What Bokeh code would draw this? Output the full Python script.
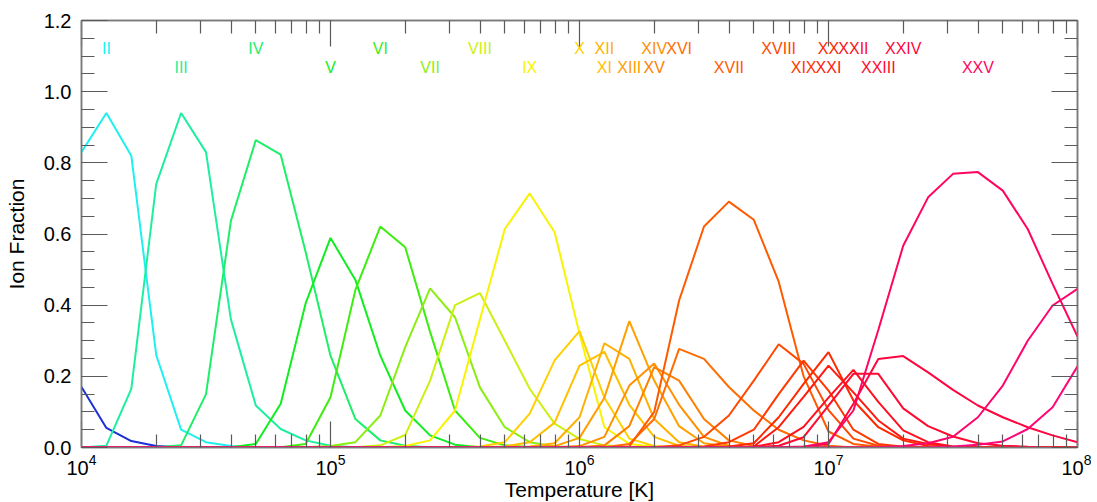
import numpy as np
from bokeh.plotting import figure
from bokeh.models import (FixedTicker, LinearAxis, PrintfTickFormatter,
                          LogTickFormatter, ColumnDataSource, Range1d)
from bokeh.core.properties import value
from bokeh.embed import file_html
from bokeh.resources import INLINE

# log10 temperature grid
log_t = [4.0 + 0.1 * i for i in range(41)]

def pad(start, vals):
    out = [0.0] * 41
    for i, v in enumerate(vals):
        out[start + i] = v
    return out

# ion fractions (start index on the grid, values)
fe_01 = pad(0, [0.17, 0.055, 0.018, 0.004, 0.001])
fe_02 = pad(0, [0.83, 0.94, 0.82, 0.26, 0.05, 0.015, 0.004, 0.001])
fe_03 = pad(0, [0.0, 0.005, 0.165, 0.74, 0.94, 0.83, 0.36, 0.118, 0.052, 0.02, 0.005, 0.001])
fe_04 = pad(3, [0.001, 0.006, 0.15, 0.637, 0.864, 0.823, 0.55, 0.258, 0.08, 0.02, 0.005, 0.001])
fe_05 = pad(6, [0.001, 0.01, 0.123, 0.405, 0.589, 0.471, 0.258, 0.104, 0.034, 0.008, 0.001])
fe_06 = pad(8, [0.001, 0.01, 0.141, 0.443, 0.621, 0.563, 0.325, 0.104, 0.027, 0.006, 0.001])
fe_07 = pad(9, [0.001, 0.004, 0.015, 0.09, 0.282, 0.447, 0.366, 0.169, 0.057, 0.015, 0.003])
fe_08 = pad(11, [0.001, 0.006, 0.035, 0.188, 0.40, 0.434, 0.30, 0.165, 0.067, 0.024, 0.006, 0.001])
fe_09 = pad(12, [0.001, 0.004, 0.02, 0.104, 0.36, 0.614, 0.714, 0.605, 0.32, 0.057, 0.01, 0.002])
fe_10 = pad(15, [0.001, 0.003, 0.015, 0.095, 0.245, 0.327, 0.14, 0.025, 0.004])
fe_11 = pad(16, [0.001, 0.003, 0.015, 0.07, 0.23, 0.269, 0.12, 0.03, 0.005])
fe_12 = pad(17, [0.001, 0.003, 0.012, 0.085, 0.293, 0.249, 0.08, 0.015, 0.002])
fe_13 = pad(18, [0.001, 0.004, 0.027, 0.14, 0.355, 0.188, 0.06, 0.012, 0.002])
fe_14 = pad(19, [0.001, 0.004, 0.03, 0.174, 0.236, 0.12, 0.03, 0.005])
fe_15 = pad(20, [0.001, 0.006, 0.06, 0.226, 0.188, 0.08, 0.02, 0.004])
fe_16 = pad(21, [0.001, 0.01, 0.08, 0.277, 0.249, 0.17, 0.104, 0.05, 0.02, 0.005])
fe_17 = pad(21, [0.001, 0.003, 0.10, 0.413, 0.621, 0.691, 0.64, 0.466, 0.2, 0.045, 0.01, 0.002])
fe_18 = pad(23, [0.001, 0.006, 0.03, 0.09, 0.188, 0.29, 0.235, 0.105, 0.025, 0.005])
fe_19 = pad(24, [0.001, 0.003, 0.015, 0.05, 0.15, 0.244, 0.16, 0.05, 0.01, 0.002])
fe_20 = pad(25, [0.001, 0.003, 0.012, 0.085, 0.179, 0.268, 0.132, 0.057, 0.02, 0.004])
fe_21 = pad(26, [0.001, 0.003, 0.057, 0.142, 0.23, 0.155, 0.076, 0.025, 0.01, 0.002])
fe_22 = pad(27, [0.002, 0.015, 0.058, 0.14, 0.218, 0.128, 0.048, 0.015, 0.003])
fe_23 = pad(27, [0.001, 0.005, 0.029, 0.118, 0.207, 0.207, 0.11, 0.06, 0.031, 0.012, 0.005, 0.002])
fe_24 = pad(28, [0.001, 0.003, 0.01, 0.123, 0.249, 0.257, 0.211, 0.162, 0.118, 0.085, 0.057, 0.034, 0.015])
fe_25 = pad(28, [0.001, 0.002, 0.015, 0.104, 0.33, 0.567, 0.703, 0.769, 0.774, 0.722, 0.614, 0.46, 0.312])
fe_26 = pad(31, [0.001, 0.001, 0.004, 0.012, 0.03, 0.085, 0.174, 0.30, 0.399, 0.446])
fe_27 = pad(34, [0.001, 0.003, 0.008, 0.017, 0.052, 0.113, 0.228])

ions = [fe_01, fe_02, fe_03, fe_04, fe_05, fe_06, fe_07, fe_08, fe_09, fe_10,
        fe_11, fe_12, fe_13, fe_14, fe_15, fe_16, fe_17, fe_18, fe_19, fe_20,
        fe_21, fe_22, fe_23, fe_24, fe_25, fe_26, fe_27]

roman = ["I", "II", "III", "IV", "V", "VI", "VII", "VIII", "IX", "X",
         "XI", "XII", "XIII", "XIV", "XV", "XVI", "XVII", "XVIII", "XIX", "XX",
         "XXI", "XXII", "XXIII", "XXIV", "XXV", "XXVI", "XXVII"]

# log T of each labelled ion's maximum (II .. XXV)
label_logt = [4.1, 4.4, 4.7, 5.0, 5.2, 5.4, 5.6, 5.8, 6.0, 6.1, 6.1, 6.2, 6.3, 6.3,
              6.4, 6.6, 6.8, 6.9, 7.0, 7.0, 7.1, 7.2, 7.3, 7.6]
label_names = roman[1:25]
label_row = [1.121 if (k % 2 == 0) else 1.067 for k in range(len(label_names))]

colors = ["#1a2fd6", "#1ef0f0", "#1eeea0", "#1eee6a", "#10ee20", "#3cee10",
          "#8aee10", "#ccf010", "#f8f400", "#ffd000", "#ffc000", "#ffb000",
          "#ffa000", "#ff9000", "#ff8000", "#ff6c00", "#ff5a00", "#ff4800",
          "#ff3800", "#ff2800", "#ff1a10", "#ff1020", "#ff0a30", "#ff0640",
          "#ff0560", "#ff056c", "#ff0578"]

temps = [10 ** t for t in log_t]

p = figure(x_axis_type="log", x_range=Range1d(1e4, 1e8), y_range=Range1d(0, 1.2),
           frame_width=996, frame_height=427,
           min_border_left=81, min_border_top=20, min_border_right=14, min_border_bottom=40,
           output_backend="svg", toolbar_location=None)
p.background_fill_color = "white"
p.outline_line_color = "#7a7a7a"
p.outline_line_width = 1.5
p.xgrid.visible = False
p.ygrid.visible = False

for vals, col in zip(ions, colors):
    p.line(temps, vals, line_color=col, line_width=2)

lab_src = ColumnDataSource(dict(x=[10 ** t for t in label_logt], y=label_row,
                                text=label_names, color=colors[1:25]))
p.text(x="x", y="y", text="text", text_color="color", source=lab_src,
       text_align="center", text_baseline="middle", text_font_size="16px",
       text_font=value("Liberation Sans"))

xmajor = [1e4, 1e5, 1e6, 1e7, 1e8]
xminor = [k * 10 ** n for n in range(4, 8) for k in range(2, 10)]
ymajor = [0.0, 0.2, 0.4, 0.6, 0.8, 1.0, 1.2]
yminor = [round(0.05 * i, 2) for i in range(25)]

def style(ax, labels=True):
    ax.axis_line_color = "#7a7a7a"
    ax.axis_line_width = 1.5
    ax.major_tick_line_color = "#5a5a5a"
    ax.minor_tick_line_color = "#5a5a5a"
    ax.major_tick_line_width = 1.2
    ax.minor_tick_line_width = 1.2
    ax.major_tick_in = 26
    ax.major_tick_out = 0
    ax.minor_tick_in = 13
    ax.minor_tick_out = 0
    if labels:
        ax.major_label_text_font = "Liberation Sans"
        ax.major_label_text_font_size = "20px"
        ax.major_label_text_color = "black"
        ax.axis_label_text_font = "Liberation Sans"
        ax.axis_label_text_font_size = "21px"
        ax.axis_label_text_font_style = "normal"
        ax.axis_label_text_color = "black"
    else:
        ax.major_label_text_font_size = "8px"
        ax.major_label_text_alpha = 0.0
        ax.major_label_standoff = 0

xa = p.xaxis[0]
xa.ticker = FixedTicker(ticks=xmajor, minor_ticks=xminor)
xa.formatter = LogTickFormatter()
xa.axis_label = "Temperature [K]"
style(xa)
xa.major_label_standoff = 6
xa.axis_label_standoff = 0

ya = p.yaxis[0]
ya.ticker = FixedTicker(ticks=ymajor, minor_ticks=yminor)
ya.formatter = PrintfTickFormatter(format="%.1f")
ya.axis_label = "Ion Fraction"
style(ya)
ya.major_label_standoff = 10
ya.axis_label_standoff = 13

top = LinearAxis(ticker=FixedTicker(ticks=xmajor, minor_ticks=xminor),
                 formatter=PrintfTickFormatter(format="%d"))
style(top, labels=False)
p.add_layout(top, "above")
right = LinearAxis(ticker=FixedTicker(ticks=ymajor, minor_ticks=yminor),
                   formatter=PrintfTickFormatter(format="%.1f"))
style(right, labels=False)
p.add_layout(right, "right")

open("out.html", "w").write(file_html(p, INLINE))
